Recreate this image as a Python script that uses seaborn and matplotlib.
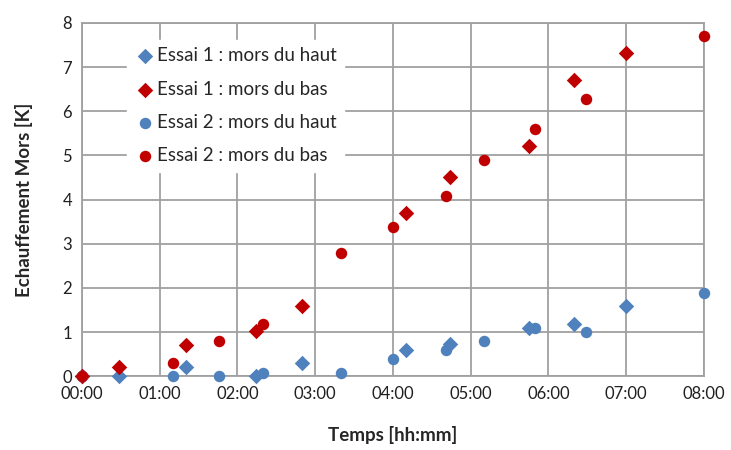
import pandas as pd
import seaborn as sns
import matplotlib
matplotlib.use('Agg')
import matplotlib.pyplot as plt

# Essai 1 : heures de mesure et échauffements
essai1_temps = ['00:00', '00:29', '01:20', '02:14', '02:50', '04:10', '04:44', '05:45', '06:20', '07:00']
essai1_haut = [0.0, 0.0, 0.20, 0.0, 0.31, 0.60, 0.72, 1.10, 1.19, 1.60]
essai1_bas = [0.0, 0.21, 0.71, 1.02, 1.60, 3.70, 4.50, 5.21, 6.70, 7.31]

# Essai 2
essai2_temps = ['00:00', '01:10', '01:46', '02:20', '03:20', '04:00', '04:41', '05:10', '05:50', '06:29', '08:00']
essai2_haut = [0.0, 0.0, 0.0, 0.08, 0.08, 0.38, 0.60, 0.79, 1.09, 1.00, 1.89]
essai2_bas = [0.0, 0.29, 0.79, 1.18, 2.79, 3.38, 4.09, 4.89, 5.60, 6.27, 7.70]

x_ticks = list(range(9))
x_tick_labels = ['%02d:00' % h for h in x_ticks]


def to_hours(times):
    return [int(t[:2]) + int(t[3:]) / 60 for t in times]


blue = '#4F81BD'
red = '#C00000'

series = [
    ('Essai 1 : mors du haut', essai1_temps, essai1_haut, blue, 'D', 62),
    ('Essai 1 : mors du bas', essai1_temps, essai1_bas, red, 'D', 62),
    ('Essai 2 : mors du haut', essai2_temps, essai2_haut, blue, 'o', 68),
    ('Essai 2 : mors du bas', essai2_temps, essai2_bas, red, 'o', 68),
]

sns.set_style('white')
plt.rcParams['font.family'] = ['Lato', 'DejaVu Sans']

fig = plt.figure(figsize=(7.31, 4.5), dpi=100)
ax = fig.add_axes([0.112, 0.164, 0.851, 0.785])

for label, times, vals, color, marker, size in series:
    df = pd.DataFrame({'temps': to_hours(times), 'val': vals})
    sns.scatterplot(data=df, x='temps', y='val', ax=ax, color=color, marker=marker,
                    s=size, linewidth=0, label=label, zorder=3, clip_on=False)

ax.set_xlim(0, 8)
ax.set_ylim(0, 8)
ax.set_xticks(x_ticks)
ax.set_xticklabels(x_tick_labels)
ax.set_yticks(range(9))
ax.tick_params(axis='both', length=0, labelsize=12, colors='#202020', pad=7)
ax.grid(True, color='#A0A0A0', linewidth=1.3)
ax.set_axisbelow(True)
for sp in ax.spines.values():
    sp.set_color('#A0A0A0')
    sp.set_linewidth(1.3)

ax.set_xlabel('Temps [hh:mm]', fontsize=13.5, fontweight='bold', labelpad=17)
ax.set_ylabel('Echauffement Mors [K]', fontsize=13.5, fontweight='bold', labelpad=21)

leg = ax.legend(loc='upper left', bbox_to_anchor=(0.072, 0.952), fontsize=13.5,
                frameon=True, facecolor='white', edgecolor='white', framealpha=1,
                fancybox=False, labelspacing=0.87, handletextpad=0.05,
                handlelength=1.17, borderpad=0.4, borderaxespad=0, markerscale=1)

fig.savefig('out.png', dpi=100)
plt.close(fig)
